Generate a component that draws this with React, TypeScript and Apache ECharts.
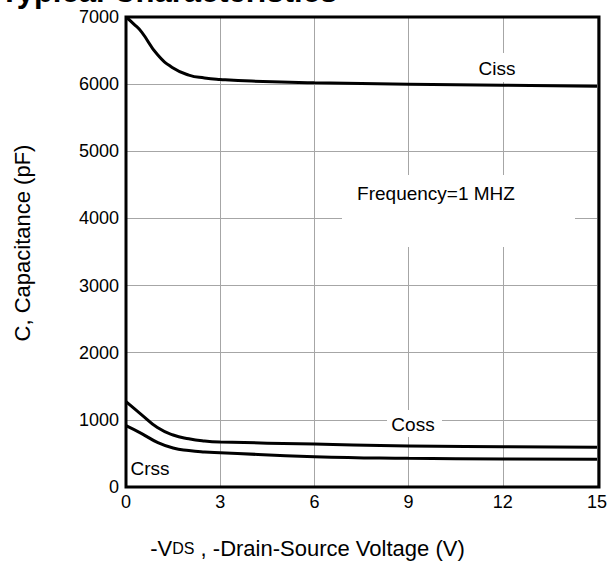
import React, { useEffect, useRef } from "react";
import * as echarts from "echarts";

const cissX = [0, 0.25, 0.5, 1, 1.5, 2, 2.5, 3, 4, 6, 9, 12, 15];
const cissY = [7000, 6895, 6775, 6440, 6240, 6135, 6092, 6070, 6045, 6020, 6000, 5985, 5970];
const cossX = [0, 0.5, 1, 1.5, 2, 2.5, 3, 6, 9, 12, 15];
const cossY = [1270, 1075, 885, 775, 718, 685, 670, 640, 610, 600, 591];
const crssX = [0, 0.5, 1, 1.5, 2, 2.5, 3, 6, 9, 12, 15];
const crssY = [913, 795, 665, 580, 543, 522, 511, 451, 427, 418, 412];
const xTicks = [0, 3, 6, 9, 12, 15];
const yTicks = [0, 1000, 2000, 3000, 4000, 5000, 6000, 7000];

const FONT = "'Liberation Sans', Arial, sans-serif";

const pairs = (xs: number[], ys: number[]) => xs.map((x, i) => [x, ys[i]]);

export default function App() {
  const ref = useRef<HTMLDivElement>(null);
  useEffect(() => {
    document.body.style.margin = "0";
    const chart = echarts.init(ref.current!, null, { renderer: "svg" });
    const gl = 126, gt = 17, gw = 473, gh = 470;
    const lineStyle = { color: "#000", width: 3 };
    const common = { type: "line", smooth: 0.5, showSymbol: false, lineStyle, z: 5 };
    chart.setOption({
      animation: false,
      backgroundColor: "#fff",
      textStyle: { fontFamily: FONT },
      grid: { left: gl, top: gt, width: gw, height: gh },
      xAxis: {
        type: "value",
        min: xTicks[0],
        max: xTicks[xTicks.length - 1],
        interval: 3,
        name: "{a|-V}{b|DS}{a| , -Drain-Source Voltage (V)}",
        nameLocation: "middle",
        nameGap: 50,
        nameTextStyle: {
          padding: [0, 108, 0, 0],
          rich: {
            a: { fontSize: 22, color: "#000", fontFamily: FONT },
            b: { fontSize: 16, color: "#000", fontFamily: FONT },
          },
        },
        axisLine: { show: false },
        axisTick: { show: false },
        axisLabel: { color: "#000", fontSize: 18, margin: 6, fontFamily: FONT, formatter: (v: number) => String(v) },
        splitLine: { show: true, lineStyle: { color: "#a6a6a6", width: 1 } },
      },
      yAxis: {
        type: "value",
        min: yTicks[0],
        max: yTicks[yTicks.length - 1],
        interval: 1000,
        name: "C, Capacitance (pF)",
        nameLocation: "middle",
        nameGap: 93,
        nameTextStyle: { fontSize: 22, color: "#000", fontFamily: FONT, padding: [0, 0, 0, 18] },
        axisLine: { show: false },
        axisTick: { show: false },
        axisLabel: { color: "#000", fontSize: 18, margin: 7, fontFamily: FONT, formatter: (v: number) => String(v) },
        splitLine: { show: true, lineStyle: { color: "#a6a6a6", width: 1 } },
      },
      series: [
        { ...common, name: "Ciss", data: pairs(cissX, cissY) },
        { ...common, name: "Coss", data: pairs(cossX, cossY) },
        { ...common, name: "Crss", data: pairs(crssX, crssY) },
      ],
      graphic: [
        { type: "rect", z: 1, shape: { x: 342, y: 175, width: 233, height: 72 }, style: { fill: "#fff" } },
        { type: "rect", z: 1, shape: { x: 476, y: 53, width: 44, height: 29 }, style: { fill: "#fff" } },
        { type: "rect", z: 1, shape: { x: 387, y: 410, width: 55, height: 27 }, style: { fill: "#fff" } },
        { type: "rect", z: 20, shape: { x: gl, y: gt, width: gw, height: gh }, style: { fill: "none", stroke: "#000", lineWidth: 3 } },
        { type: "text", z: 20, x: 436, y: 193, style: { text: "Frequency=1 MHZ", fontSize: 19, fontFamily: FONT, fill: "#000", align: "center", verticalAlign: "middle" } },
        { type: "text", z: 20, x: 497, y: 68, style: { text: "Ciss", fontSize: 19, fontFamily: FONT, fill: "#000", align: "center", verticalAlign: "middle" } },
        { type: "text", z: 20, x: 413, y: 424, style: { text: "Coss", fontSize: 19, fontFamily: FONT, fill: "#000", align: "center", verticalAlign: "middle" } },
        { type: "text", z: 20, x: 150, y: 468, style: { text: "Crss", fontSize: 19, fontFamily: FONT, fill: "#000", align: "center", verticalAlign: "middle" } },
        { type: "text", z: 20, x: 0, y: -9, style: { text: "Typical Characteristics", fontSize: 31, fontWeight: "bold", fontFamily: FONT, fill: "#000", align: "left", verticalAlign: "middle" } },
      ],
    });
    return () => chart.dispose();
  }, []);
  return <div ref={ref} style={{ position: "absolute", left: 0, top: 0, width: 610, height: 567 }} />;
}
